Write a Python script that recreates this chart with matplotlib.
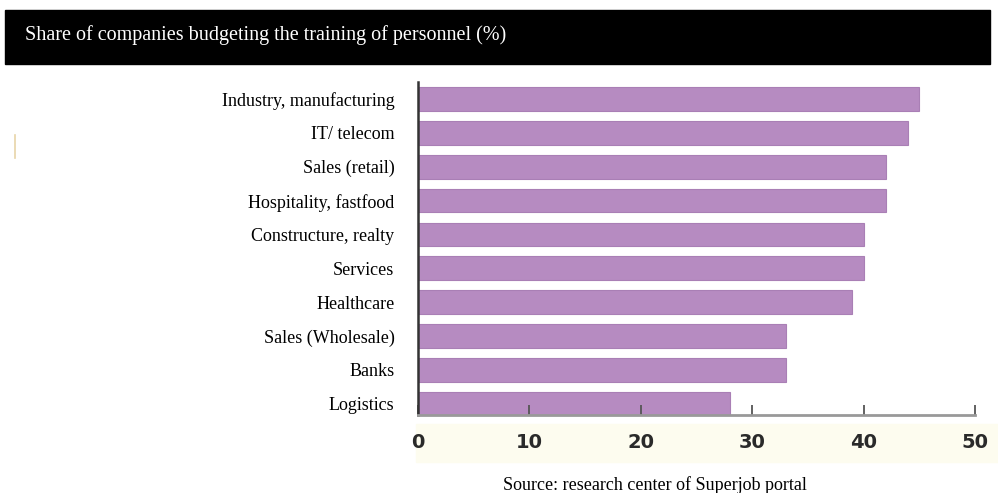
import matplotlib.pyplot as plt
from matplotlib.patches import Rectangle
from matplotlib.lines import Line2D

sectors = [
    'Industry, manufacturing',
    'IT/ telecom',
    'Sales (retail)',
    'Hospitality, fastfood',
    'Constructure, realty',
    'Services',
    'Healthcare',
    'Sales (Wholesale)',
    'Banks',
    'Logistics',
]
shares = [45, 44, 42, 42, 40, 40, 39, 33, 33, 28]
xticks = [0, 10, 20, 30, 40, 50]

serif = 'Liberation Serif'

fig = plt.figure(figsize=(9.98, 4.93), dpi=100)

# black title band
fig.patches.append(Rectangle((5 / 998, 1 - 64 / 493), 985 / 998, 54 / 493,
                             transform=fig.transFigure, color='black', zorder=0))
fig.text(25 / 998, 1 - 35 / 493, 'Share of companies budgeting the training of personnel (%)',
         color='white', family=serif, fontsize=14.5, va='center', ha='left')

# pale band under the tick labels
fig.patches.append(Rectangle((416 / 998, 1 - 462 / 493), 582 / 998, 38 / 493,
                             transform=fig.transFigure, color='#fdfcef', zorder=0))

# small stray mark on the left
fig.lines.append(Line2D([15 / 998, 15 / 998], [1 - 135 / 493, 1 - 158 / 493],
                        transform=fig.transFigure, color='#e8d4a8', lw=1.2))

ax = fig.add_axes([418 / 998, 1 - 415 / 493, 557 / 998, 333 / 493])
ax.set_zorder(2)
ax.patch.set_alpha(0)
y = list(range(len(sectors)))
ax.barh(y, shares, height=0.7, color='#b68bc1', edgecolor='#a97fb5', linewidth=0.8)

ax.set_xlim(0, 50)
ax.set_ylim(9.33, -0.5)
ax.set_yticks(y)
ax.set_yticklabels(sectors, family=serif, fontsize=13)
ax.tick_params(axis='y', length=0, pad=17)

ax.set_xticks(xticks)
ax.set_xticklabels([str(t) for t in xticks], fontsize=14, color='#2a2a2a', fontweight='bold')
ax.tick_params(axis='x', direction='in', length=7, width=1.3, color='#555555', pad=13)

for side in ['top', 'right']:
    ax.spines[side].set_visible(False)
ax.spines['left'].set_color('#333333')
ax.spines['left'].set_linewidth(1.8)
ax.spines['bottom'].set_color('#999999')
ax.spines['bottom'].set_linewidth(2)

fig.text(655 / 998, 1 - 485 / 493, 'Source: research center of Superjob portal',
         family=serif, fontsize=13, ha='center', va='center')

fig.savefig('out.png', dpi=100)
